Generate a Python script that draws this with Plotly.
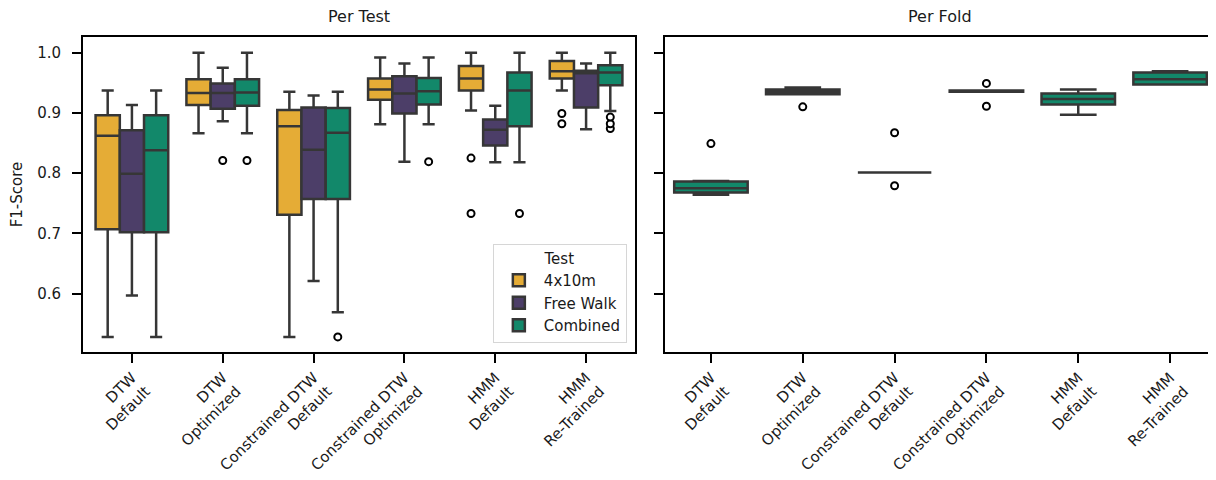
import plotly.graph_objects as go

categories = ["DTW<br>Default", "DTW<br>Optimized", "Constrained DTW<br>Default",
              "Constrained DTW<br>Optimized", "HMM<br>Default", "HMM<br>Re-Trained"]

tests = ["4x10m", "Free Walk", "Combined"]
colors = ["#E5AC36", "#4C3E68", "#12886A"]

# Per Test statistics (lower whisker, Q1, median, Q3, upper whisker, outliers)
t4_low = [0.528, 0.866, 0.528, 0.881, 0.904, 0.937]
t4_q1 = [0.707, 0.913, 0.731, 0.922, 0.937, 0.957]
t4_med = [0.862, 0.933, 0.878, 0.939, 0.957, 0.969]
t4_q3 = [0.896, 0.956, 0.905, 0.957, 0.978, 0.986]
t4_up = [0.937, 1.0, 0.935, 0.992, 1.0, 1.0]
t4_out = [[], [], [], [], [0.825, 0.733], [0.899, 0.882]]

fw_low = [0.597, 0.886, 0.621, 0.819, 0.818, 0.873]
fw_q1 = [0.702, 0.907, 0.757, 0.899, 0.846, 0.909]
fw_med = [0.799, 0.933, 0.839, 0.932, 0.872, 0.966]
fw_q3 = [0.871, 0.949, 0.909, 0.961, 0.889, 0.970]
fw_up = [0.913, 0.975, 0.929, 0.982, 0.912, 0.982]
fw_out = [[], [0.821], [], [], [], []]

cb_low = [0.528, 0.866, 0.569, 0.881, 0.818, 0.903]
cb_q1 = [0.702, 0.912, 0.757, 0.914, 0.878, 0.946]
cb_med = [0.838, 0.934, 0.867, 0.936, 0.937, 0.967]
cb_q3 = [0.896, 0.956, 0.908, 0.958, 0.967, 0.979]
cb_up = [0.937, 1.0, 0.935, 0.992, 1.0, 1.0]
cb_out = [[], [0.821], [0.528], [0.819], [0.733], [0.893, 0.882, 0.874]]

# Per Fold statistics (Combined)
pf_low = [0.764, 0.931, 0.801, 0.936, 0.897, 0.947]
pf_q1 = [0.768, 0.931, 0.801, 0.935, 0.914, 0.947]
pf_med = [0.775, 0.935, 0.801, 0.936, 0.923, 0.956]
pf_q3 = [0.786, 0.939, 0.801, 0.937, 0.932, 0.967]
pf_up = [0.787, 0.942, 0.801, 0.937, 0.939, 0.969]
pf_out = [[0.849], [0.910], [0.867, 0.779], [0.949, 0.911], [], []]

per_test = [
    (t4_low, t4_q1, t4_med, t4_q3, t4_up, t4_out),
    (fw_low, fw_q1, fw_med, fw_q3, fw_up, fw_out),
    (cb_low, cb_q1, cb_med, cb_q3, cb_up, cb_out),
]

FONT = "DejaVu Sans"
LINE = "#363636"
TXT = "#1a1a1a"

fig = go.Figure()


def add_series(name, color, stats, xaxis, yaxis, legend, offsetgroup):
    low, q1, med, q3, up, out = stats
    for i, cat in enumerate(categories):
        kw = {}
        if out[i]:
            kw["y"] = [out[i]]
        fig.add_trace(go.Box(
            name=name, x=[cat],
            q1=[q1[i]], median=[med[i]], q3=[q3[i]],
            lowerfence=[low[i]], upperfence=[up[i]],
            fillcolor=color, line=dict(color=LINE, width=2.5),
            boxpoints="outliers", pointpos=0, jitter=0,
            marker=dict(color="white", size=7, symbol="circle",
                        line=dict(color="black", width=2)),
            whiskerwidth=0.5, xaxis=xaxis, yaxis=yaxis,
            legendgroup=offsetgroup, showlegend=(legend and i == 0),
            offsetgroup=offsetgroup, alignmentgroup=xaxis,
            hoverinfo="skip", **kw,
        ))


for name, color, stats in zip(tests, colors, per_test):
    add_series(name, color, stats, "x", "y", True, name)

add_series("Combined", colors[2], (pf_low, pf_q1, pf_med, pf_q3, pf_up, pf_out),
           "x2", "y2", False, "fold")

yrange = [0.503, 1.026]
tickvals = [0.6, 0.7, 0.8, 0.9, 1.0]

axis_common = dict(showline=True, linecolor="black", linewidth=2,
                   ticks="outside", ticklen=9, tickwidth=1.8, tickcolor="black",
                   showgrid=False, zeroline=False, automargin=False,
                   tickfont=dict(family=FONT, size=15, color=TXT))

# the page adds an 8px body margin, so the figure is laid out 8px smaller
fig.update_layout(
    width=1208, height=472,
    margin=dict(l=75, r=0, t=29, b=128),
    plot_bgcolor="white", paper_bgcolor="white",
    boxmode="group", boxgap=0.2, boxgroupgap=0,
    font=dict(family=FONT, size=15, color=TXT),
    xaxis=dict(domain=[0, 0.4872], mirror=True, tickangle=-45,
               categoryorder="array", categoryarray=categories, **axis_common),
    xaxis2=dict(domain=[0.5137, 1.0], mirror=True, tickangle=-45, anchor="y2",
                categoryorder="array", categoryarray=categories, **axis_common),
    yaxis=dict(range=yrange, tickvals=tickvals, ticktext=["0.6", "0.7", "0.8", "0.9", "1.0"],
               mirror=True, ticklabelstandoff=8,
               title=dict(text="F1-Score", font=dict(family=FONT, size=15, color=TXT), standoff=12),
               **axis_common),
    yaxis2=dict(range=yrange, tickvals=tickvals, showticklabels=False, anchor="x2",
                matches="y", mirror=False, **axis_common),
    legend=dict(x=0.480, y=0.03, xanchor="right", yanchor="bottom",
                bgcolor="white", bordercolor="#d6d6d6", borderwidth=1,
                tracegroupgap=0,
                font=dict(family=FONT, size=15, color=TXT),
                title=dict(text="Test", side="top center", font=dict(family=FONT, size=15, color=TXT)),
                itemwidth=40),
    annotations=[
        dict(text="Per Test", x=0.2436, y=1, xref="paper", yref="paper",
             xanchor="center", yanchor="bottom", yshift=9, showarrow=False,
             font=dict(family=FONT, size=16, color=TXT)),
        dict(text="Per Fold", x=0.7568, y=1, xref="paper", yref="paper",
             xanchor="center", yanchor="bottom", yshift=9, showarrow=False,
             font=dict(family=FONT, size=16, color=TXT)),
    ],
)

fig.write_html("out.html")
